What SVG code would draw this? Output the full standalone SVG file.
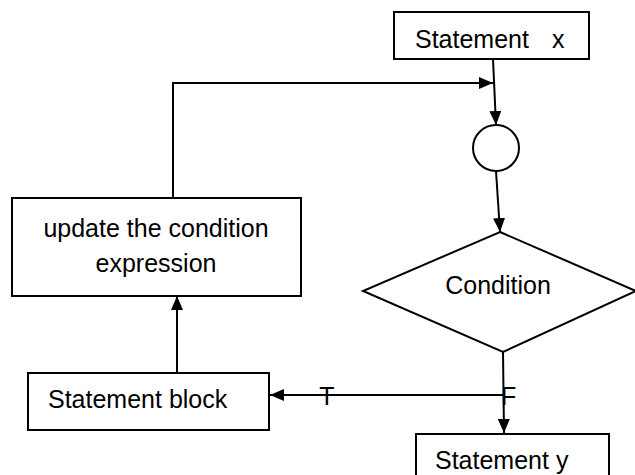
<svg xmlns="http://www.w3.org/2000/svg" width="635" height="475" viewBox="0 0 635 475">
  <style>
    .box { fill: #ffffff; stroke: #000000; stroke-width: 2; }
    .lbl { font-family: "Liberation Sans", Arial, sans-serif; font-size: 25px; fill: #000000; }
    .wire { fill: none; stroke: #000000; stroke-width: 2; }
  </style>
  <defs>
    <marker id="arrow" viewBox="0 0 14 12" refX="14" refY="6" markerWidth="14" markerHeight="12" markerUnits="userSpaceOnUse" orient="auto">
      <path d="M0,0 L14,6 L0,12 Z" fill="#000000"/>
    </marker>
  </defs>

  <g id="statement-x">
    <rect class="box" x="394" y="12" width="195" height="47"/>
    <text class="lbl" x="415" y="48">Statement <tspan x="552">x</tspan></text>
  </g>

  <g id="junction">
    <circle class="box" cx="496" cy="148" r="23"/>
  </g>

  <g id="condition">
    <polygon class="box" points="500,232 636,291 503,352 363,291"/>
    <text class="lbl" x="498" y="294" text-anchor="middle">Condition</text>
  </g>

  <g id="update">
    <rect class="box" x="12" y="198" width="289" height="98"/>
    <text class="lbl" x="156" y="237" text-anchor="middle">update the condition</text>
    <text class="lbl" x="156" y="272" text-anchor="middle">expression</text>
  </g>

  <g id="statement-block">
    <rect class="box" x="28" y="373" width="241" height="57"/>
    <text class="lbl" x="48" y="408">Statement block</text>
  </g>

  <g id="statement-y">
    <rect class="box" x="416" y="434" width="193" height="50"/>
    <text class="lbl" x="435" y="469">Statement  y</text>
  </g>

  <g id="connectors">
    <line class="wire" x1="493" y1="59" x2="496" y2="125" marker-end="url(#arrow)"/>
    <polyline class="wire" points="173,198 173,83 493,83" marker-end="url(#arrow)"/>
    <line class="wire" x1="496" y1="171" x2="500" y2="232" marker-end="url(#arrow)"/>
    <line class="wire" x1="503" y1="352" x2="504" y2="433" marker-end="url(#arrow)"/>
    <line class="wire" x1="503" y1="395" x2="270" y2="395" marker-end="url(#arrow)"/>
    <line class="wire" x1="177" y1="373" x2="177" y2="296" marker-end="url(#arrow)"/>
    <text class="lbl" x="327" y="405" text-anchor="middle">T</text>
    <text class="lbl" x="501" y="405">F</text>
  </g>
</svg>
